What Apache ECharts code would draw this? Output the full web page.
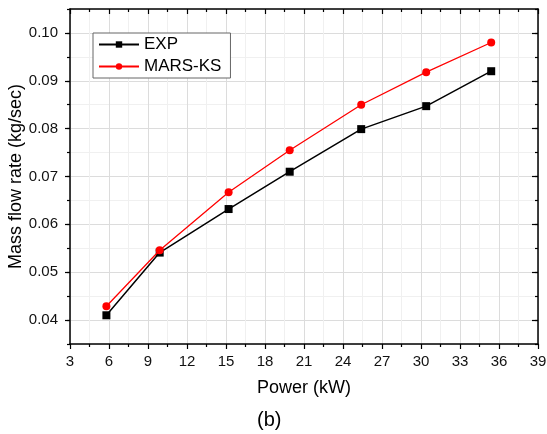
<!DOCTYPE html>
<html>
<head>
<meta charset="utf-8">
<script src="https://cdn.jsdelivr.net/npm/echarts@6/dist/echarts.min.js"></script>
<style>
html,body{margin:0;padding:0;background:#fff;}
#chart{width:547px;height:434px;}
</style>
</head>
<body>
<div id="chart"></div>
<script>
var powerKW = [5.8, 9.9, 15.2, 19.9, 25.4, 30.4, 35.4];
var expFlow = [0.0410, 0.0541, 0.0632, 0.0710, 0.0799, 0.0847, 0.0920];
var marsFlow = [0.0429, 0.0546, 0.0667, 0.0755, 0.0850, 0.0918, 0.0980];
var yMajorTicks = [0.04, 0.05, 0.06, 0.07, 0.08, 0.09, 0.10];

var FONT = '"Liberation Sans", Arial, sans-serif';
var chart = echarts.init(document.getElementById('chart'), null, {renderer: 'canvas'});

function pairs(xs, ys) { return xs.map(function (x, i) { return [x, ys[i]]; }); }

var yBase = {type: 'value', min: 0.035, max: 0.105, interval: 0.005};

var option = {
  animation: false,
  backgroundColor: '#fff',
  grid: {left: 70, right: 9, top: 9, bottom: 90, containLabel: false, outerBoundsMode: 'none'},
  legend: {
    orient: 'vertical',
    left: 93, top: 33,
    backgroundColor: '#fff',
    borderColor: '#666', borderWidth: 1, borderRadius: 0,
    padding: [3, 9, 3, 5],
    itemGap: 5,
    itemWidth: 40, itemHeight: 8,
    textStyle: {fontFamily: FONT, fontSize: 17, color: '#000', lineHeight: 16},
    data: ['EXP', 'MARS-KS']
  },
  xAxis: [
    {
      type: 'value', min: 3, max: 39, interval: 3, position: 'bottom',
      name: 'Power (kW)', nameLocation: 'middle', nameGap: 35, nameMoveOverlap: false,
      nameTextStyle: {fontFamily: FONT, fontSize: 18, color: '#000'},
      axisLine: {show: true, onZero: false, lineStyle: {color: '#000', width: 1.5}},
      axisTick: {show: true, inside: false, length: 5, lineStyle: {color: '#000', width: 1.2}},
      minorTick: {show: true, splitNumber: 2, length: 3, lineStyle: {color: '#000', width: 1.2}},
      axisLabel: {fontFamily: FONT, fontSize: 15, color: '#111', margin: 10},
      splitLine: {show: true, lineStyle: {color: '#dcdcdc', width: 1}},
      minorSplitLine: {show: true, lineStyle: {color: '#f0f0f0', width: 1}}
    },
    {
      type: 'value', min: 3, max: 39, interval: 3, position: 'top',
      axisLine: {show: true, onZero: false, lineStyle: {color: '#000', width: 1.5}},
      axisTick: {show: true, inside: true, length: 5, lineStyle: {color: '#000', width: 1.2}},
      minorTick: {show: true, splitNumber: 2, length: 3, lineStyle: {color: '#000', width: 1.2}},
      axisLabel: {show: false},
      splitLine: {show: false}
    }
  ],
  yAxis: [
    Object.assign({}, yBase, {
      position: 'left',
      name: 'Mass flow rate (kg/sec)', nameLocation: 'middle', nameGap: 45, nameMoveOverlap: false,
      nameTextStyle: {fontFamily: FONT, fontSize: 18, color: '#000'},
      axisLine: {show: true, onZero: false, lineStyle: {color: '#000', width: 1.5}},
      axisTick: {show: true, inside: false, length: 3, lineStyle: {color: '#000', width: 1.2}},
      axisLabel: {
        fontFamily: FONT, fontSize: 15, color: '#111', margin: 12,
        formatter: function (v) {
          var k = Math.round(v * 1000);
          return (k % 10 === 0) ? (k / 1000).toFixed(2) : '';
        }
      },
      splitLine: {show: true, lineStyle: {color: ['#f0f0f0', '#dcdcdc'], width: 1}}
    }),
    Object.assign({}, yBase, {
      position: 'left',
      axisLine: {show: false, onZero: false},
      axisTick: {show: true, inside: false, length: 5, customValues: yMajorTicks, lineStyle: {color: '#000', width: 1.2}},
      axisLabel: {show: false},
      splitLine: {show: false}
    }),
    Object.assign({}, yBase, {
      position: 'right',
      axisLine: {show: true, onZero: false, lineStyle: {color: '#000', width: 1.5}},
      axisTick: {show: true, inside: true, length: 3, lineStyle: {color: '#000', width: 1.2}},
      axisLabel: {show: false},
      splitLine: {show: false}
    }),
    Object.assign({}, yBase, {
      position: 'right',
      axisLine: {show: false, onZero: false},
      axisTick: {show: true, inside: true, length: 6, customValues: yMajorTicks, lineStyle: {color: '#000', width: 1.2}},
      axisLabel: {show: false},
      splitLine: {show: false}
    })
  ],
  graphic: [{
    type: 'text', left: 257, top: 410,
    style: {text: '(b)', fontFamily: FONT, fontSize: 20, fill: '#000'}
  }],
  series: [
    {
      name: 'EXP', type: 'line', xAxisIndex: 0, yAxisIndex: 0,
      data: pairs(powerKW, expFlow),
      symbol: 'rect', symbolSize: 8,
      lineStyle: {color: '#000', width: 1.5},
      itemStyle: {color: '#000'},
      z: 3
    },
    {
      name: 'MARS-KS', type: 'line', xAxisIndex: 0, yAxisIndex: 0,
      data: pairs(powerKW, marsFlow),
      symbol: 'circle', symbolSize: 8,
      lineStyle: {color: '#ff0000', width: 1.3},
      itemStyle: {color: '#ff0000'},
      z: 4
    }
  ]
};
chart.setOption(option);
</script>
</body>
</html>
